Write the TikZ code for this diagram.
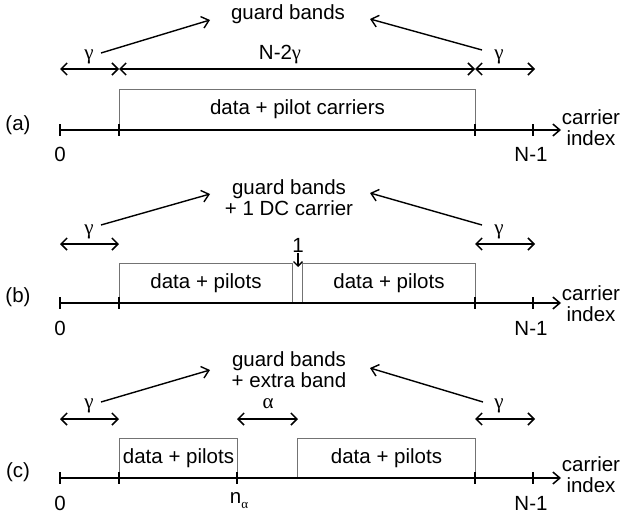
\documentclass[tikz,border=0pt]{standalone}
\usepackage{fontspec}
\setmainfont{Liberation Sans}
\newfontfamily\grk{Liberation Serif}
\usetikzlibrary{arrows.meta}
\begin{document}
\begin{tikzpicture}[x=1pt,y=-1pt,
  axisline/.style={line width=1.5pt, -{Straight Barb[length=7pt,width=12pt,line width=1.5pt]}},
  tickmark/.style={line width=1.3pt},
  dimline/.style={line width=1.5pt, {Straight Barb[length=6pt,width=12pt,line width=1.5pt]}-{Straight Barb[length=6pt,width=12pt,line width=1.5pt]}},
  pointer/.style={line width=1.4pt, -{Straight Barb[length=7pt,width=12pt,line width=1.4pt]}},
  smallptr/.style={line width=1.4pt, -{Straight Barb[length=4.5pt,width=9pt,line width=1.4pt]}},
  band/.style={draw=black!55, line width=1pt, inner sep=0pt, anchor=south west, lbl},
  lbl/.style={font=\fontsize{20.5}{21}\selectfont, inner sep=0pt},
  glbl/.style={font=\fontsize{21}{21}\selectfont\grk, inner sep=0pt},
  two/.style={lbl, align=center}
]
\path[use as bounding box] (0,0) rectangle (623,516);

% ---------------- (a) ----------------
\coordinate (a0) at (60,130);
\coordinate (a1) at (119,130);
\coordinate (a2) at (475,130);
\coordinate (a3) at (533,130);
\coordinate (aend) at (561,130);
\node[band, minimum width=356pt, minimum height=40pt] (abox) at (a1) {data + pilot carriers};
\draw[axisline] (a0) -- (aend);
\foreach \p in {a0,a1,a2,a3} \draw[tickmark] (\p) ++(0,-6) -- ++(0,12);
\node[lbl] (alab) at (18,125) {(a)};
\node[lbl] (azero) at (60,154) {0};
\node[lbl] (aN) at (531,154) {N-1};
\node[two] (acar) at (591,128) {carrier\\index};
\coordinate (ad0) at (60,69);
\coordinate (ad1) at (119,69);
\coordinate (ad2) at (475,69);
\coordinate (ad3) at (535,69);
\draw[dimline] (ad0) -- (ad1);
\draw[dimline] (ad1) -- (ad2);
\draw[dimline] (ad2) -- (ad3);
\node[glbl] (ag1) at (89,57) {γ};
\node[lbl] (aNg) at (280,55) {N-2\grk γ};
\node[glbl] (ag2) at (499,57) {γ};
\node[lbl] (aguard) at (288,14) {guard bands};
\coordinate (ap1s) at (101,53);
\coordinate (ap1e) at (210,20);
\coordinate (ap2s) at (482,50);
\coordinate (ap2e) at (370,19);
\draw[pointer] (ap1s) -- (ap1e);
\draw[pointer] (ap2s) -- (ap2e);

% ---------------- (b) ----------------
\coordinate (b0) at (60,303);
\coordinate (b1) at (119,303);
\coordinate (bm1) at (292,303);
\coordinate (bm2) at (302,303);
\coordinate (b2) at (475,303);
\coordinate (b3) at (533,303);
\coordinate (bend) at (561,303);
\node[band, minimum width=173pt, minimum height=39pt] (bbox1) at (b1) {data + pilots};
\node[band, minimum width=173pt, minimum height=39pt] (bbox2) at (bm2) {data + pilots};
\draw[axisline] (b0) -- (bend);
\foreach \p in {b0,b1,b2,b3} \draw[tickmark] (\p) ++(0,-6) -- ++(0,12);
\node[lbl] (blab) at (18,297) {(b)};
\node[lbl] (bzero) at (60,328) {0};
\node[lbl] (bN) at (531,328) {N-1};
\node[two] (bcar) at (591,304) {carrier\\index};
\coordinate (bd0) at (60,244);
\coordinate (bd1) at (119,244);
\coordinate (bd2) at (475,244);
\coordinate (bd3) at (535,244);
\draw[dimline] (bd0) -- (bd1);
\draw[dimline] (bd2) -- (bd3);
\node[glbl] (bg1) at (89,232) {γ};
\node[glbl] (bg2) at (499,232) {γ};
\node[lbl] (bone) at (298,245) {1};
\coordinate (bdcs) at (298,253);
\coordinate (bdce) at (298,267);
\draw[smallptr] (bdcs) -- (bdce);
\node[two] (bguard) at (289,198) {guard bands\\+ 1 DC carrier};
\coordinate (bp1s) at (101,225);
\coordinate (bp1e) at (210,194);
\coordinate (bp2s) at (482,225);
\coordinate (bp2e) at (370,193);
\draw[pointer] (bp1s) -- (bp1e);
\draw[pointer] (bp2s) -- (bp2e);

% ---------------- (c) ----------------
\coordinate (c0) at (60,478);
\coordinate (c1) at (119,478);
\coordinate (cm1) at (237,478);
\coordinate (cm2) at (297,478);
\coordinate (c2) at (475,478);
\coordinate (c3) at (533,478);
\coordinate (cend) at (561,478);
\node[band, minimum width=118pt, minimum height=39pt] (cbox1) at (c1) {data + pilots};
\node[band, minimum width=178pt, minimum height=39pt] (cbox2) at (cm2) {data + pilots};
\draw[axisline] (c0) -- (cend);
\foreach \p in {c0,c1,cm1,c2,c3} \draw[tickmark] (\p) ++(0,-6) -- ++(0,12);
\node[lbl] (clab) at (18,472) {(c)};
\node[lbl] (czero) at (60,503) {0};
\node[lbl] (cna) at (239,501) {n\raisebox{-5pt}{\fontsize{13}{13}\selectfont\grk α}};
\node[lbl] (cN) at (531,503) {N-1};
\node[two] (ccar) at (591,475) {carrier\\index};
\coordinate (cd0) at (60,419);
\coordinate (cd1) at (119,419);
\coordinate (cda) at (237,419);
\coordinate (cdb) at (298,419);
\coordinate (cd2) at (475,419);
\coordinate (cd3) at (535,419);
\draw[dimline] (cd0) -- (cd1);
\draw[dimline] (cda) -- (cdb);
\draw[dimline] (cd2) -- (cd3);
\node[glbl] (cg1) at (89,406) {γ};
\node[glbl] (calpha) at (268,404) {α};
\node[glbl] (cg2) at (499,406) {γ};
\node[two] (cguard) at (289,370) {guard bands\\+ extra band};
\coordinate (cp1s) at (101,402);
\coordinate (cp1e) at (210,370);
\coordinate (cp2s) at (483,402);
\coordinate (cp2e) at (370,368);
\draw[pointer] (cp1s) -- (cp1e);
\draw[pointer] (cp2s) -- (cp2e);
\end{tikzpicture}
\end{document}
